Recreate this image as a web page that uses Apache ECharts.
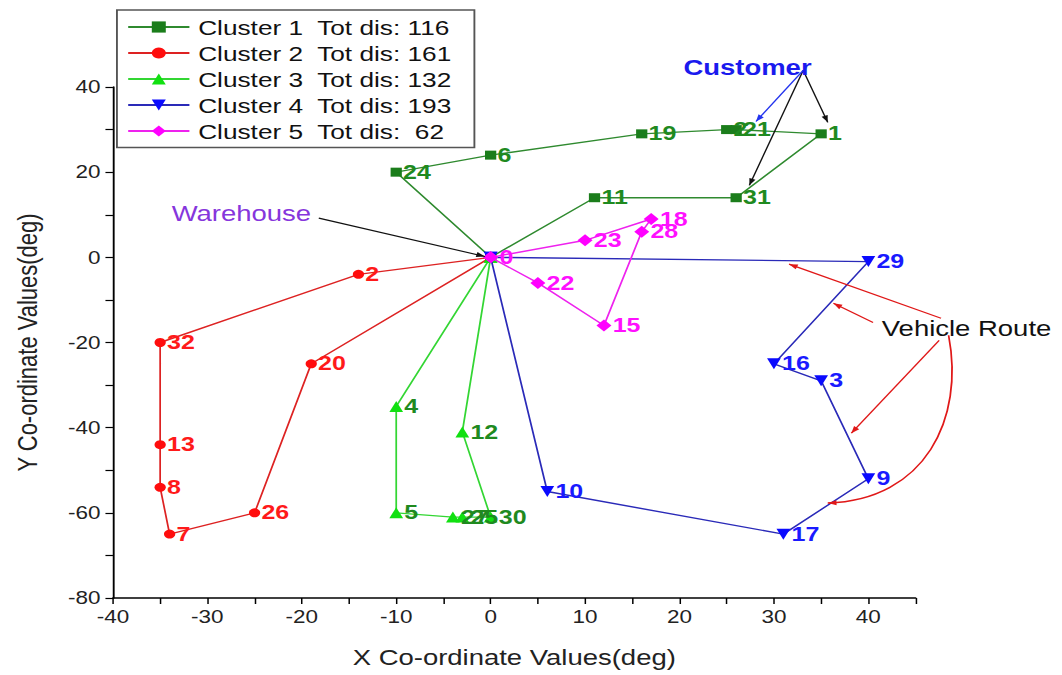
<!DOCTYPE html>
<html>
<head>
<meta charset="utf-8">
<script src="https://cdn.jsdelivr.net/npm/echarts@6/dist/echarts.min.js"></script>
<style>
  html, body { margin: 0; padding: 0; background: #fff; overflow: hidden; width: 1062px; height: 675px; }
  /* the figure is laid out narrower and widened horizontally */
  #chart { width: 850px; height: 675px; transform: scaleX(1.2494); transform-origin: 0 0; }
</style>
</head>
<body>
<div id="chart"></div>
<script>
const FONT = '"Liberation Sans", Arial, sans-serif';

// Route of each cluster, starting and ending at the warehouse (node 0)
const totalDistance = [116, 161, 132, 193, 62];

const route1Ids = ['0', '24', '6', '19', '2', '21', '1', '31', '11', '0'];
const route1X   = [0, -10, 0, 16, 25, 26, 35, 26, 11, 0];
const route1Y   = [0, 20, 24, 29, 30, 30, 29, 14, 14, 0];

const route2Ids = ['0', '2', '32', '13', '8', '7', '26', '20', '0'];
const route2X   = [0, -14, -35, -35, -35, -34, -25, -19, 0];
const route2Y   = [0, -4, -20, -44, -54, -65, -60, -25, 0];

const route3Ids = ['0', '4', '5', '27', '25', '30', '12', '0'];
const route3X   = [0, -10, -10, -4, -3, 0, -3, 0];
const route3Y   = [0, -35, -60, -61, -61, -61, -41, 0];

const route4Ids = ['0', '29', '16', '3', '9', '17', '10', '0'];
const route4X   = [0, 40, 30, 35, 40, 31, 6, 0];
const route4Y   = [0, -1, -25, -29, -52, -65, -55, 0];

const route5Ids = ['0', '23', '18', '28', '15', '22', '0'];
const route5X   = [0, 10, 17, 16, 12, 5, 0];
const route5Y   = [0, 4, 9, 6, -16, -6, 0];

const routes = [
  { ids: route1Ids, xs: route1X, ys: route1Y, symbol: 'rect', size: 9, rotate: 0,
    marker: '#1b7d1b', line: '#2f8a2f', label: '#1f8a1f' },
  { ids: route2Ids, xs: route2X, ys: route2Y, symbol: 'circle', size: 9, rotate: 0,
    marker: '#ff0d0d', line: '#dd2222', label: '#ff1a1a' },
  { ids: route3Ids, xs: route3X, ys: route3Y, symbol: 'triangle', size: 11, rotate: 0,
    marker: '#11e011', line: '#33d633', label: '#1f8a1f' },
  { ids: route4Ids, xs: route4X, ys: route4Y, symbol: 'triangle', size: 11, rotate: 180,
    marker: '#0a0aff', line: '#2a2ab8', label: '#1a1aff' },
  { ids: route5Ids, xs: route5X, ys: route5Y, symbol: 'diamond', size: 12, rotate: 0,
    marker: '#ff00ff', line: '#ee22ee', label: '#ff10ff', showDepot: true }
];

function legendName(i) {
  return 'Cluster ' + (i + 1) + '  Tot dis: ' + String(totalDistance[i]).padStart(3, ' ');
}

const series = routes.map((r, i) => ({
  name: legendName(i),
  type: 'line',
  data: r.ids.map((id, k) => ({
    value: [r.xs[k], r.ys[k]],
    name: (k === r.ids.length - 1 || (id === '0' && !r.showDepot)) ? '' : id
  })),
  symbol: r.symbol,
  symbolSize: r.size,
  symbolRotate: r.rotate,
  showAllSymbol: true,
  itemStyle: { color: r.marker },
  lineStyle: { color: r.line, width: 1.4 },
  label: {
    show: true, position: 'right', distance: 1, formatter: '{b}',
    color: r.label, fontSize: 20, fontWeight: 'bold', fontFamily: FONT
  },
  emphasis: { disabled: true },
  animation: false,
  z: 2 + i
}));

const chart = echarts.init(document.getElementById('chart'), null, { renderer: 'svg' });

chart.setOption({
  animation: false,
  backgroundColor: '#fff',
  grid: { left: 90.4, right: 117.2, top: 87, bottom: 77 },
  legend: {
    orient: 'vertical',
    left: 93.6, top: 10,
    padding: [6.5, 18, 6, 8],
    itemGap: 5,
    itemWidth: 49, itemHeight: 14,
    borderColor: '#555', borderWidth: 1.5,
    backgroundColor: '#fff',
    textStyle: { fontSize: 21, lineHeight: 21, color: '#111', fontFamily: FONT, padding: [0, 0, 0, 2] },
    data: routes.map((r, i) => legendName(i))
  },
  xAxis: {
    type: 'value', min: -40, max: 45, interval: 5,
    name: 'X Co-ordinate Values(deg)', nameLocation: 'middle', nameGap: 48,
    nameTextStyle: { fontSize: 22, color: '#222', fontFamily: FONT },
    axisLine: { onZero: false, lineStyle: { color: '#000', width: 1.5 } },
    axisTick: { length: 6, lineStyle: { color: '#000', width: 1.2 } },
    axisLabel: {
      fontSize: 18, color: '#222', fontFamily: FONT, margin: 10,
      formatter: v => (v % 10 === 0 && v <= 40) ? String(v) : ''
    },
    splitLine: { show: false }
  },
  yAxis: {
    type: 'value', min: -80, max: 40, interval: 10,
    name: 'Y Co-ordinate Values(deg)', nameLocation: 'middle', nameGap: 58, nameRotate: 90,
    nameTextStyle: { fontSize: 22, color: '#222', fontFamily: FONT },
    axisLine: { onZero: false, lineStyle: { color: '#000', width: 1.5 } },
    axisTick: { length: 6, lineStyle: { color: '#000', width: 1.2 } },
    axisLabel: {
      fontSize: 18, color: '#222', fontFamily: FONT, margin: 10,
      formatter: v => (v % 20 === 0) ? String(v) : ''
    },
    splitLine: { show: false }
  },
  series: series
});

// Callouts, placed in data coordinates
const callouts = {
  texts: [
    { text: 'Customer', at: [27.2, 44.6], color: '#1a1aee', weight: 'bold', size: 22 },
    { text: 'Warehouse', at: [-26.4, 10.3], color: '#8636dc', weight: 'normal', size: 22 },
    { text: 'Vehicle Route', at: [50.4, -16.7], color: '#111', weight: 'normal', size: 22 }
  ],
  arrows: [
    { from: [33.1, 43.9], to: [35.7, 31.7], color: '#111' },
    { from: [33.1, 43.9], to: [27.4, 16.9], color: '#111' },
    { from: [33.1, 43.9], to: [28.1, 31.9], color: '#2233ee' },
    { from: [-18.2, 9.2], to: [-0.6, 0.2], color: '#111' },
    { from: [47.7, -14.3], to: [31.6, -1.6], color: '#e01818' },
    { from: [40.5, -15.3], to: [36.3, -10.8], color: '#e01818' },
    { from: [47.5, -19.5], to: [38.2, -41.3], color: '#e01818' }
  ],
  curves: [
    { from: [48.5, -18.3], c1: [50.2, -38.0], c2: [46.0, -57.0], to: [35.7, -57.7], color: '#e01818' }
  ]
};

function toPx(p) { return chart.convertToPixel({ gridIndex: 0 }, p); }

function arrowHead(tip, from, color) {
  const dx = tip[0] - from[0], dy = tip[1] - from[1];
  const len = Math.hypot(dx, dy) || 1;
  const ux = dx / len, uy = dy / len;
  const L = 7, W = 2.6;
  const bx = tip[0] - ux * L, by = tip[1] - uy * L;
  return {
    type: 'polygon', silent: true, z: 100,
    shape: { points: [tip, [bx - uy * W, by + ux * W], [bx + uy * W, by - ux * W]] },
    style: { fill: color }
  };
}

const graphics = [];
callouts.arrows.forEach(a => {
  const p1 = toPx(a.from), p2 = toPx(a.to);
  graphics.push({
    type: 'line', silent: true, z: 100,
    shape: { x1: p1[0], y1: p1[1], x2: p2[0], y2: p2[1] },
    style: { stroke: a.color, lineWidth: 1.2 }
  });
  graphics.push(arrowHead(p2, p1, a.color));
});
callouts.curves.forEach(c => {
  const p1 = toPx(c.from), q1 = toPx(c.c1), q2 = toPx(c.c2), p2 = toPx(c.to);
  graphics.push({
    type: 'bezierCurve', silent: true, z: 100,
    shape: { x1: p1[0], y1: p1[1], cpx1: q1[0], cpy1: q1[1], cpx2: q2[0], cpy2: q2[1], x2: p2[0], y2: p2[1] },
    style: { stroke: c.color, lineWidth: 1.4, fill: null }
  });
  graphics.push(arrowHead(p2, q2, c.color));
});
callouts.texts.forEach(t => {
  const p = toPx(t.at);
  graphics.push({
    type: 'text', silent: true, z: 101,
    x: p[0], y: p[1],
    style: {
      text: t.text, fill: t.color, fontSize: t.size, fontWeight: t.weight,
      fontFamily: FONT, align: 'center', verticalAlign: 'middle'
    }
  });
});

chart.setOption({ graphic: graphics });
</script>
</body>
</html>
